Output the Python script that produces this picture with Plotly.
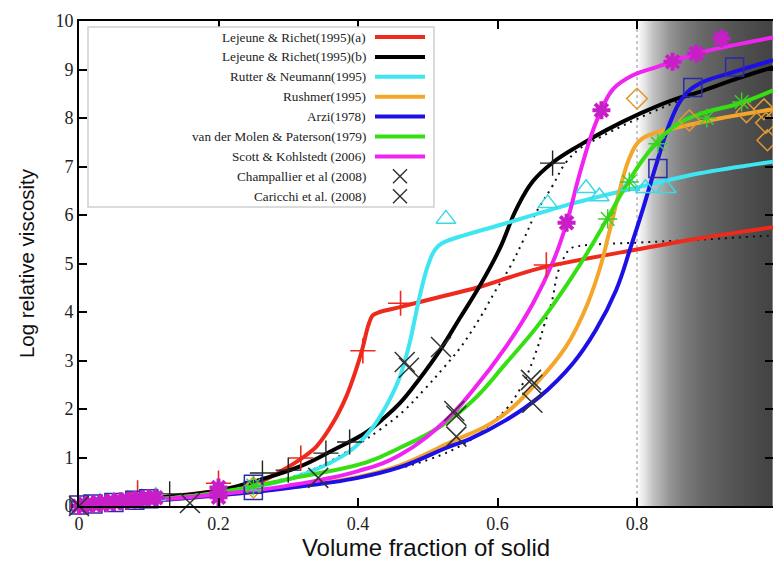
import numpy as np
import plotly.graph_objects as go

# ---------------- data ----------------
red_x = [0, 0.1, 0.2, 0.26, 0.29, 0.316, 0.34, 0.364, 0.383, 0.397, 0.407, 0.414, 0.421, 0.431, 0.46, 0.517, 0.57, 0.66, 0.804, 0.89, 0.995]
red_y = [0, 0.15, 0.32, 0.5, 0.72, 0.95, 1.22, 1.71, 2.25, 2.8, 3.28, 3.69, 3.93, 4.0, 4.1, 4.31, 4.5, 4.9, 5.3, 5.52, 5.75]

black_x = [0, 0.1, 0.2, 0.259, 0.316, 0.364, 0.412, 0.436, 0.46, 0.488, 0.517, 0.545, 0.575, 0.603, 0.627, 0.651, 0.68, 0.718, 0.756, 0.804, 0.851, 0.89, 0.937, 0.995]
black_y = [0, 0.15, 0.32, 0.54, 0.81, 1.15, 1.52, 1.8, 2.12, 2.62, 3.2, 3.85, 4.55, 5.3, 6.12, 6.7, 7.09, 7.44, 7.75, 8.09, 8.37, 8.54, 8.78, 9.05]

cyan_x = [0, 0.1, 0.2, 0.3, 0.35, 0.39, 0.42, 0.44, 0.46, 0.474, 0.488, 0.498, 0.507, 0.515, 0.525, 0.612, 0.708, 0.804, 0.89, 0.995]
cyan_y = [0, 0.12, 0.27, 0.55, 0.82, 1.15, 1.6, 2.05, 2.66, 3.36, 4.3, 4.86, 5.2, 5.36, 5.45, 5.83, 6.24, 6.58, 6.86, 7.1]

orange_x = [0, 0.1, 0.2, 0.3, 0.4, 0.46, 0.53, 0.598, 0.66, 0.698, 0.715, 0.73, 0.746, 0.761, 0.775, 0.789, 0.803, 0.823, 0.851, 0.914, 0.995]
orange_y = [0, 0.1, 0.22, 0.38, 0.6, 0.84, 1.3, 1.77, 2.6, 3.28, 3.72, 4.2, 4.86, 5.69, 6.5, 7.17, 7.52, 7.68, 7.78, 7.98, 8.18]

blue_x = [0, 0.1, 0.2, 0.3, 0.4, 0.46, 0.53, 0.56, 0.612, 0.66, 0.708, 0.741, 0.77, 0.791, 0.808, 0.828, 0.847, 0.866, 0.89, 0.937, 0.995]
blue_y = [0, 0.1, 0.22, 0.37, 0.58, 0.8, 1.22, 1.38, 1.77, 2.25, 2.94, 3.63, 4.45, 5.34, 6.10, 7.06, 7.89, 8.43, 8.71, 8.94, 9.19]

green_x = [0, 0.1, 0.2, 0.316, 0.412, 0.46, 0.517, 0.565, 0.612, 0.66, 0.708, 0.732, 0.756, 0.785, 0.814, 0.851, 0.89, 0.947, 0.995]
green_y = [0, 0.12, 0.28, 0.6, 0.9, 1.2, 1.63, 2.18, 2.94, 3.76, 4.75, 5.3, 5.89, 6.62, 7.25, 7.8, 8.08, 8.3, 8.57]

magenta_x = [0, 0.1, 0.2, 0.3, 0.4, 0.46, 0.526, 0.565, 0.612, 0.651, 0.68, 0.699, 0.718, 0.737, 0.751, 0.766, 0.794, 0.828, 0.861, 0.9, 0.995]
magenta_y = [0, 0.11, 0.24, 0.42, 0.72, 1.05, 1.77, 2.39, 3.28, 4.18, 5.05, 5.83, 6.86, 7.75, 8.23, 8.6, 8.88, 9.05, 9.22, 9.38, 9.66]

dotA_x = [0, 0.1, 0.2, 0.3, 0.35, 0.398, 0.431, 0.464, 0.495, 0.524, 0.547, 0.577, 0.596, 0.618, 0.637, 0.656, 0.678, 0.697, 0.718, 0.74, 0.8, 0.9, 0.995]
dotA_y = [0, 0.14, 0.3, 0.58, 0.85, 1.25, 1.57, 1.94, 2.4, 2.87, 3.27, 3.93, 4.41, 4.93, 5.48, 6.07, 6.58, 7.06, 7.37, 7.55, 7.98, 8.58, 9.03]

dotB_x = [0, 0.1, 0.2, 0.3, 0.4, 0.5, 0.56, 0.598, 0.615, 0.637, 0.657, 0.667, 0.678, 0.686, 0.696, 0.705, 0.722, 0.8, 0.9, 0.995]
dotB_y = [0, 0.1, 0.22, 0.38, 0.6, 0.95, 1.35, 1.8, 2.04, 2.54, 3.25, 3.73, 4.22, 4.79, 5.14, 5.31, 5.37, 5.43, 5.5, 5.58]

# measured points
red_pts_x = [0.084, 0.2, 0.318, 0.407, 0.461, 0.67]
red_pts_y = [0.27, 0.47, 0.99, 3.2, 4.18, 4.97]

black_pts_x = [0.13, 0.263, 0.30, 0.354, 0.388, 0.679]
black_pts_y = [0.25, 0.68, 0.74, 1.09, 1.32, 7.07]

cyan_pts_x = [0.01, 0.03, 0.05, 0.07, 0.09, 0.11, 0.25, 0.526, 0.672, 0.727, 0.746, 0.79, 0.812, 0.842]
cyan_pts_y = [0.05, 0.08, 0.1, 0.14, 0.17, 0.2, 0.42, 5.92, 6.24, 6.55, 6.38, 6.6, 6.55, 6.55]

orange_pts_x = [0.25, 0.8, 0.875, 0.957, 0.982, 0.985, 0.987]
orange_pts_y = [0.38, 8.4, 7.95, 8.12, 8.18, 7.9, 7.54]

blue_pts_x = [0, 0.02, 0.05, 0.08, 0.1, 0.25, 0.25, 0.83, 0.88, 0.94]
blue_pts_y = [0.02, 0.04, 0.07, 0.12, 0.15, 0.32, 0.45, 6.96, 8.63, 9.05]

green_pts_x = [0.25, 0.758, 0.789, 0.83, 0.9, 0.95]
green_pts_y = [0.42, 5.92, 6.68, 7.47, 8.0, 8.33]

magenta_pts_x = [0, 0.01, 0.02, 0.03, 0.04, 0.05, 0.06, 0.07, 0.08, 0.09, 0.10, 0.11, 0.2, 0.2, 0.2, 0.699, 0.749, 0.851, 0.885, 0.921]
magenta_pts_y = [0.0, 0.02, 0.04, 0.05, 0.06, 0.08, 0.1, 0.11, 0.13, 0.14, 0.16, 0.17, 0.18, 0.28, 0.38, 5.84, 8.16, 9.16, 9.33, 9.64]

champ_x = [0, 0.159, 0.343, 0.467, 0.473, 0.519]
champ_y = [0.0, 0.06, 0.58, 2.97, 2.85, 3.28]

caric_x = [0.538, 0.541, 0.541, 0.648, 0.65, 0.65]
caric_y = [1.96, 1.86, 1.43, 2.6, 2.5, 2.13]

legend_names = ["Lejeune & Richet(1995)(a)", "Lejeune & Richet(1995)(b)", "Rutter & Neumann(1995)",
                "Rushmer(1995)", "Arzi(1978)", "van der Molen & Paterson(1979)", "Scott & Kohlstedt (2006)",
                "Champallier et al (2008)", "Caricchi et al. (2008)"]

# background gradient (rigid zone beyond 0.8)
grad_stops = [0.8, 0.81, 0.822, 0.847, 0.87, 0.894, 0.94, 0.995]
grad_gray = [255, 230, 196, 148, 122, 104, 84, 66]
threshold_x = 0.8

# ---------------- styling ----------------
C_RED = "#ee2a1c"
C_BLACK = "#000000"
C_CYAN = "#3ee6f2"
C_ORANGE = "#f4a62a"
C_BLUE = "#1c10e6"
C_GREEN = "#35df12"
C_MAG = "#f023f0"

fig = go.Figure()

gx = np.linspace(grad_stops[0], grad_stops[-1], 200)
cs = [[(s - grad_stops[0]) / (grad_stops[-1] - grad_stops[0]), f"rgb({g},{g},{g})"] for s, g in zip(grad_stops, grad_gray)]
fig.add_trace(go.Heatmap(x=gx, y=[0, 10], z=[gx, gx], colorscale=cs, zmin=grad_stops[0], zmax=grad_stops[-1],
                         zsmooth="best", showscale=False, hoverinfo="skip"))

fig.add_trace(go.Scatter(x=[threshold_x, threshold_x], y=[0, 10], mode="lines",
                         line=dict(color="#b4b4b4", width=1.5, dash="dot"), hoverinfo="skip"))

for xs, ys in [(dotA_x, dotA_y), (dotB_x, dotB_y)]:
    fig.add_trace(go.Scatter(x=xs, y=ys, mode="lines",
                             line=dict(color="#111", width=2, dash="2px,5px", shape="spline", smoothing=1.1)))

curves = [(red_x, red_y, C_RED, 0.8), (black_x, black_y, C_BLACK, 1.2), (cyan_x, cyan_y, C_CYAN, 0.9),
          (orange_x, orange_y, C_ORANGE, 1.2), (blue_x, blue_y, C_BLUE, 1.2), (green_x, green_y, C_GREEN, 1.2),
          (magenta_x, magenta_y, C_MAG, 1.2)]
for xs, ys, c, sm in curves:
    fig.add_trace(go.Scatter(x=xs, y=ys, mode="lines", line=dict(color=c, width=4, shape="spline", smoothing=sm)))

def pts(xs, ys, symbol, color, size, lw):
    fig.add_trace(go.Scatter(x=xs, y=ys, mode="markers", cliponaxis=False,
                             marker=dict(symbol=symbol, size=size, color=color, line=dict(color=color, width=lw))))

pts(red_pts_x, red_pts_y, "cross-thin-open", C_RED, 18, 1.6)
pts(black_pts_x, black_pts_y, "cross-thin-open", "#222", 18, 1.4)
pts(cyan_pts_x, cyan_pts_y, "triangle-up-open", "#3cd8e4", 17, 1.5)
pts(orange_pts_x, orange_pts_y, "diamond-open", "#e09a30", 16, 1.5)
pts(blue_pts_x, blue_pts_y, "square-open", "#2a2aa8", 18, 1.5)
pts(green_pts_x, green_pts_y, "asterisk-open", "#38d020", 16, 1.5)
pts(magenta_pts_x, magenta_pts_y, "asterisk-open", "#c81ec8", 15, 4)
pts(champ_x, champ_y, "x-thin-open", "#333", 20, 1.5)
pts(caric_x, caric_y, "x-thin-open", "#333", 20, 1.5)

# ---------------- custom legend (text left of sample, as in original) ----------------
W, H = 773, 565
ML, MR, MT, MB = 79, 0, 21, 59
PW, PH = W - ML - MR, H - MT - MB

def px(xp):
    return (xp - ML) / PW

def py(yp):
    return (H - MB - yp) / PH

shapes = [dict(type="rect", xref="paper", yref="paper", x0=px(88), x1=px(434), y0=py(207), y1=py(27),
               line=dict(color="#cfcfcf", width=1.5), fillcolor="white", layer="above")]
annotations = []
leg_colors = [C_RED, C_BLACK, C_CYAN, C_ORANGE, C_BLUE, C_GREEN, C_MAG, None, None]
for i, (name, col) in enumerate(zip(legend_names, leg_colors)):
    yc = 37 + i * 19.9
    annotations.append(dict(xref="paper", yref="paper", x=px(368), y=py(yc), text=name, showarrow=False,
                            xanchor="right", yanchor="middle",
                            font=dict(family="Liberation Serif", size=13.2, color="#222")))
    if col is not None:
        shapes.append(dict(type="line", xref="paper", yref="paper", x0=px(375), x1=px(425), y0=py(yc), y1=py(yc),
                           line=dict(color=col, width=4), layer="above"))
    else:
        cx, r = 400, 7
        shapes.append(dict(type="line", xref="paper", yref="paper", x0=px(cx - r), x1=px(cx + r),
                           y0=py(yc - r), y1=py(yc + r), line=dict(color="#333", width=1.5), layer="above"))
        shapes.append(dict(type="line", xref="paper", yref="paper", x0=px(cx - r), x1=px(cx + r),
                           y0=py(yc + r), y1=py(yc - r), line=dict(color="#333", width=1.5), layer="above"))

tickfont = dict(family="Liberation Serif", size=18, color="#222")

fig.update_layout(
    width=W, height=H, margin=dict(l=ML, r=MR, t=MT, b=MB, pad=0),
    paper_bgcolor="white", plot_bgcolor="white", showlegend=False,
    shapes=shapes, annotations=annotations,
    xaxis=dict(range=[0, PW / 697.5], tickvals=[0, 0.2, 0.4, 0.6, 0.8], ticktext=["0", "0.2", "0.4", "0.6", "0.8"],
               ticks="inside", ticklen=8, tickwidth=2, tickcolor="black",
               showline=True, linewidth=2, linecolor="black", mirror="ticks",
               showgrid=False, zeroline=False, tickfont=tickfont,
               title=dict(text="Volume fraction of solid", font=dict(family="Liberation Sans", size=24, color="#111"),
                          standoff=4)),
    yaxis=dict(range=[0, 10], dtick=1, ticks="inside", ticklen=8, tickwidth=2, tickcolor="black",
               showline=True, linewidth=2, linecolor="black", mirror=False,
               showgrid=False, zeroline=False, tickfont=tickfont,
               title=dict(text="Log relative viscosity", font=dict(family="Liberation Sans", size=20.5, color="#111"),
                          standoff=15)),
    yaxis2=dict(range=[0, 10], dtick=1, overlaying="y", side="right", ticks="inside", ticklen=8, tickwidth=2,
                tickcolor="black", showline=False, showticklabels=False, showgrid=False, zeroline=False),
)
# a hidden trace to activate the right-hand tick axis
fig.add_trace(go.Scatter(x=[None], y=[None], yaxis="y2", mode="markers", hoverinfo="skip"))

fig.write_html("out.html")
